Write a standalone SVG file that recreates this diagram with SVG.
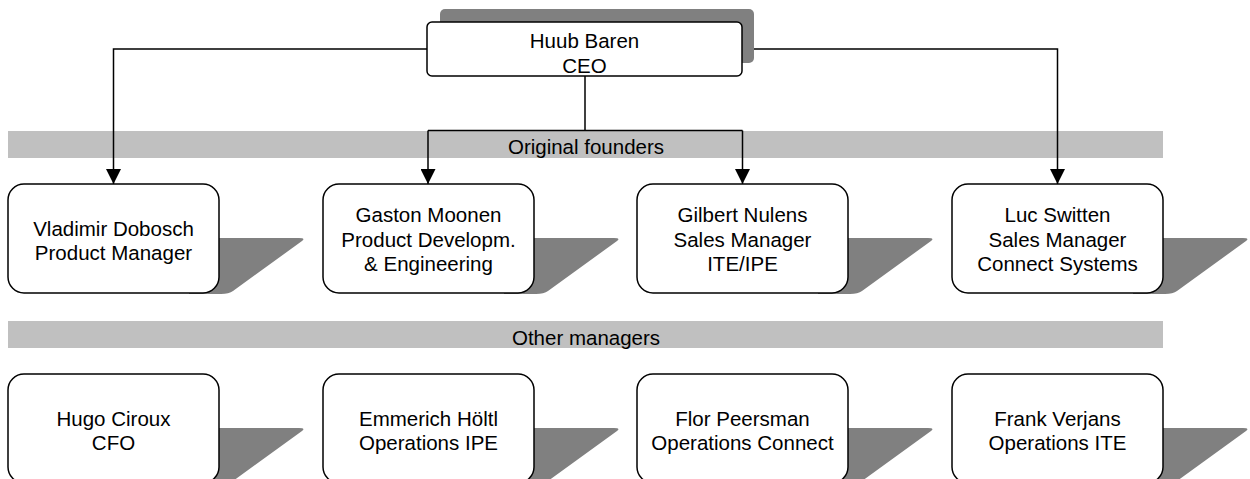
<svg xmlns="http://www.w3.org/2000/svg" width="1250" height="479" viewBox="0 0 1250 479">
<defs>
<style>
.box{fill:#fff;stroke:#000;stroke-width:1.5}
.sh{fill:#808080;stroke:none}
.band{fill:#c0c0c0;stroke:none}
.t{font-family:"Liberation Sans",Arial,sans-serif;font-size:20.5px;fill:#000;text-anchor:middle}
.c{fill:none;stroke:#000;stroke-width:1.5}
</style>
<marker id="ah" viewBox="0 0 10 10" refX="10" refY="5" markerUnits="userSpaceOnUse" markerWidth="15" markerHeight="15" orient="auto">
<path d="M0,0 L10,5 L0,10 Z" fill="#000"/>
</marker>
</defs>
<rect width="1250" height="479" fill="#fff"/>
<g id="bands">
<rect class="band" x="8" y="131" width="1155" height="27"/>
<text class="t" x="586" y="154">Original founders</text>
<rect class="band" x="8" y="321" width="1155" height="27"/>
<text class="t" x="586" y="345">Other managers</text>
</g>
<g id="connectors">
<path class="c" d="M427,49 H113.5 V184" marker-end="url(#ah)"/>
<path class="c" d="M742,49 H1057.5 V184" marker-end="url(#ah)"/>
<path class="c" d="M585,76 V130.5"/>
<path class="c" d="M428,130.5 H742.5"/>
<path class="c" d="M428,130.5 V184" marker-end="url(#ah)"/>
<path class="c" d="M742.5,130.5 V184" marker-end="url(#ah)"/>
</g>
<g id="ceo">
<rect class="sh" x="440" y="9" width="314" height="54" rx="5"/>
<rect class="box" x="427" y="22" width="315" height="54" rx="5"/>
<text class="t" x="584.5" y="48.3">Huub Baren</text>
<text class="t" x="584.5" y="73">CEO</text>
</g>
<g id="vladimir">
<path class="sh" d="M189,238 H299 Q306,238 302,241 L233,291 Q229,294 221,294 H189 Z"/>
<rect class="box" x="8" y="184" width="211" height="109" rx="16"/>
<text class="t" x="113.5" y="235.5">Vladimir Dobosch</text>
<text class="t" x="113.5" y="260">Product Manager</text>
</g>
<g id="gaston">
<path class="sh" d="M504,238 H614 Q621,238 617,241 L548,291 Q544,294 536,294 H504 Z"/>
<rect class="box" x="323" y="184" width="211" height="109" rx="16"/>
<text class="t" x="428.5" y="222">Gaston Moonen</text>
<text class="t" x="428.5" y="246.5">Product Developm.</text>
<text class="t" x="428.5" y="271">&amp; Engineering</text>
</g>
<g id="gilbert">
<path class="sh" d="M818,238 H928 Q935,238 931,241 L862,291 Q858,294 850,294 H818 Z"/>
<rect class="box" x="637" y="184" width="211" height="109" rx="16"/>
<text class="t" x="742.5" y="222">Gilbert Nulens</text>
<text class="t" x="742.5" y="246.5">Sales Manager</text>
<text class="t" x="742.5" y="271">ITE/IPE</text>
</g>
<g id="luc">
<path class="sh" d="M1133,238 H1243 Q1250,238 1246,241 L1177,291 Q1173,294 1165,294 H1133 Z"/>
<rect class="box" x="952" y="184" width="211" height="109" rx="16"/>
<text class="t" x="1057.5" y="222">Luc Switten</text>
<text class="t" x="1057.5" y="246.5">Sales Manager</text>
<text class="t" x="1057.5" y="271">Connect Systems</text>
</g>
<g id="hugo">
<path class="sh" d="M189,428 H299 Q306,428 302,431 L233,481 Q229,484 221,484 H189 Z"/>
<rect class="box" x="8" y="374" width="211" height="109" rx="16"/>
<text class="t" x="113.5" y="425.5">Hugo Ciroux</text>
<text class="t" x="113.5" y="450">CFO</text>
</g>
<g id="emmerich">
<path class="sh" d="M504,428 H614 Q621,428 617,431 L548,481 Q544,484 536,484 H504 Z"/>
<rect class="box" x="323" y="374" width="211" height="109" rx="16"/>
<text class="t" x="428.5" y="425.5">Emmerich Höltl</text>
<text class="t" x="428.5" y="450">Operations IPE</text>
</g>
<g id="flor">
<path class="sh" d="M818,428 H928 Q935,428 931,431 L862,481 Q858,484 850,484 H818 Z"/>
<rect class="box" x="637" y="374" width="211" height="109" rx="16"/>
<text class="t" x="742.5" y="425.5">Flor Peersman</text>
<text class="t" x="742.5" y="450">Operations Connect</text>
</g>
<g id="frank">
<path class="sh" d="M1133,428 H1243 Q1250,428 1246,431 L1177,481 Q1173,484 1165,484 H1133 Z"/>
<rect class="box" x="952" y="374" width="211" height="109" rx="16"/>
<text class="t" x="1057.5" y="425.5">Frank Verjans</text>
<text class="t" x="1057.5" y="450">Operations ITE</text>
</g>
</svg>
